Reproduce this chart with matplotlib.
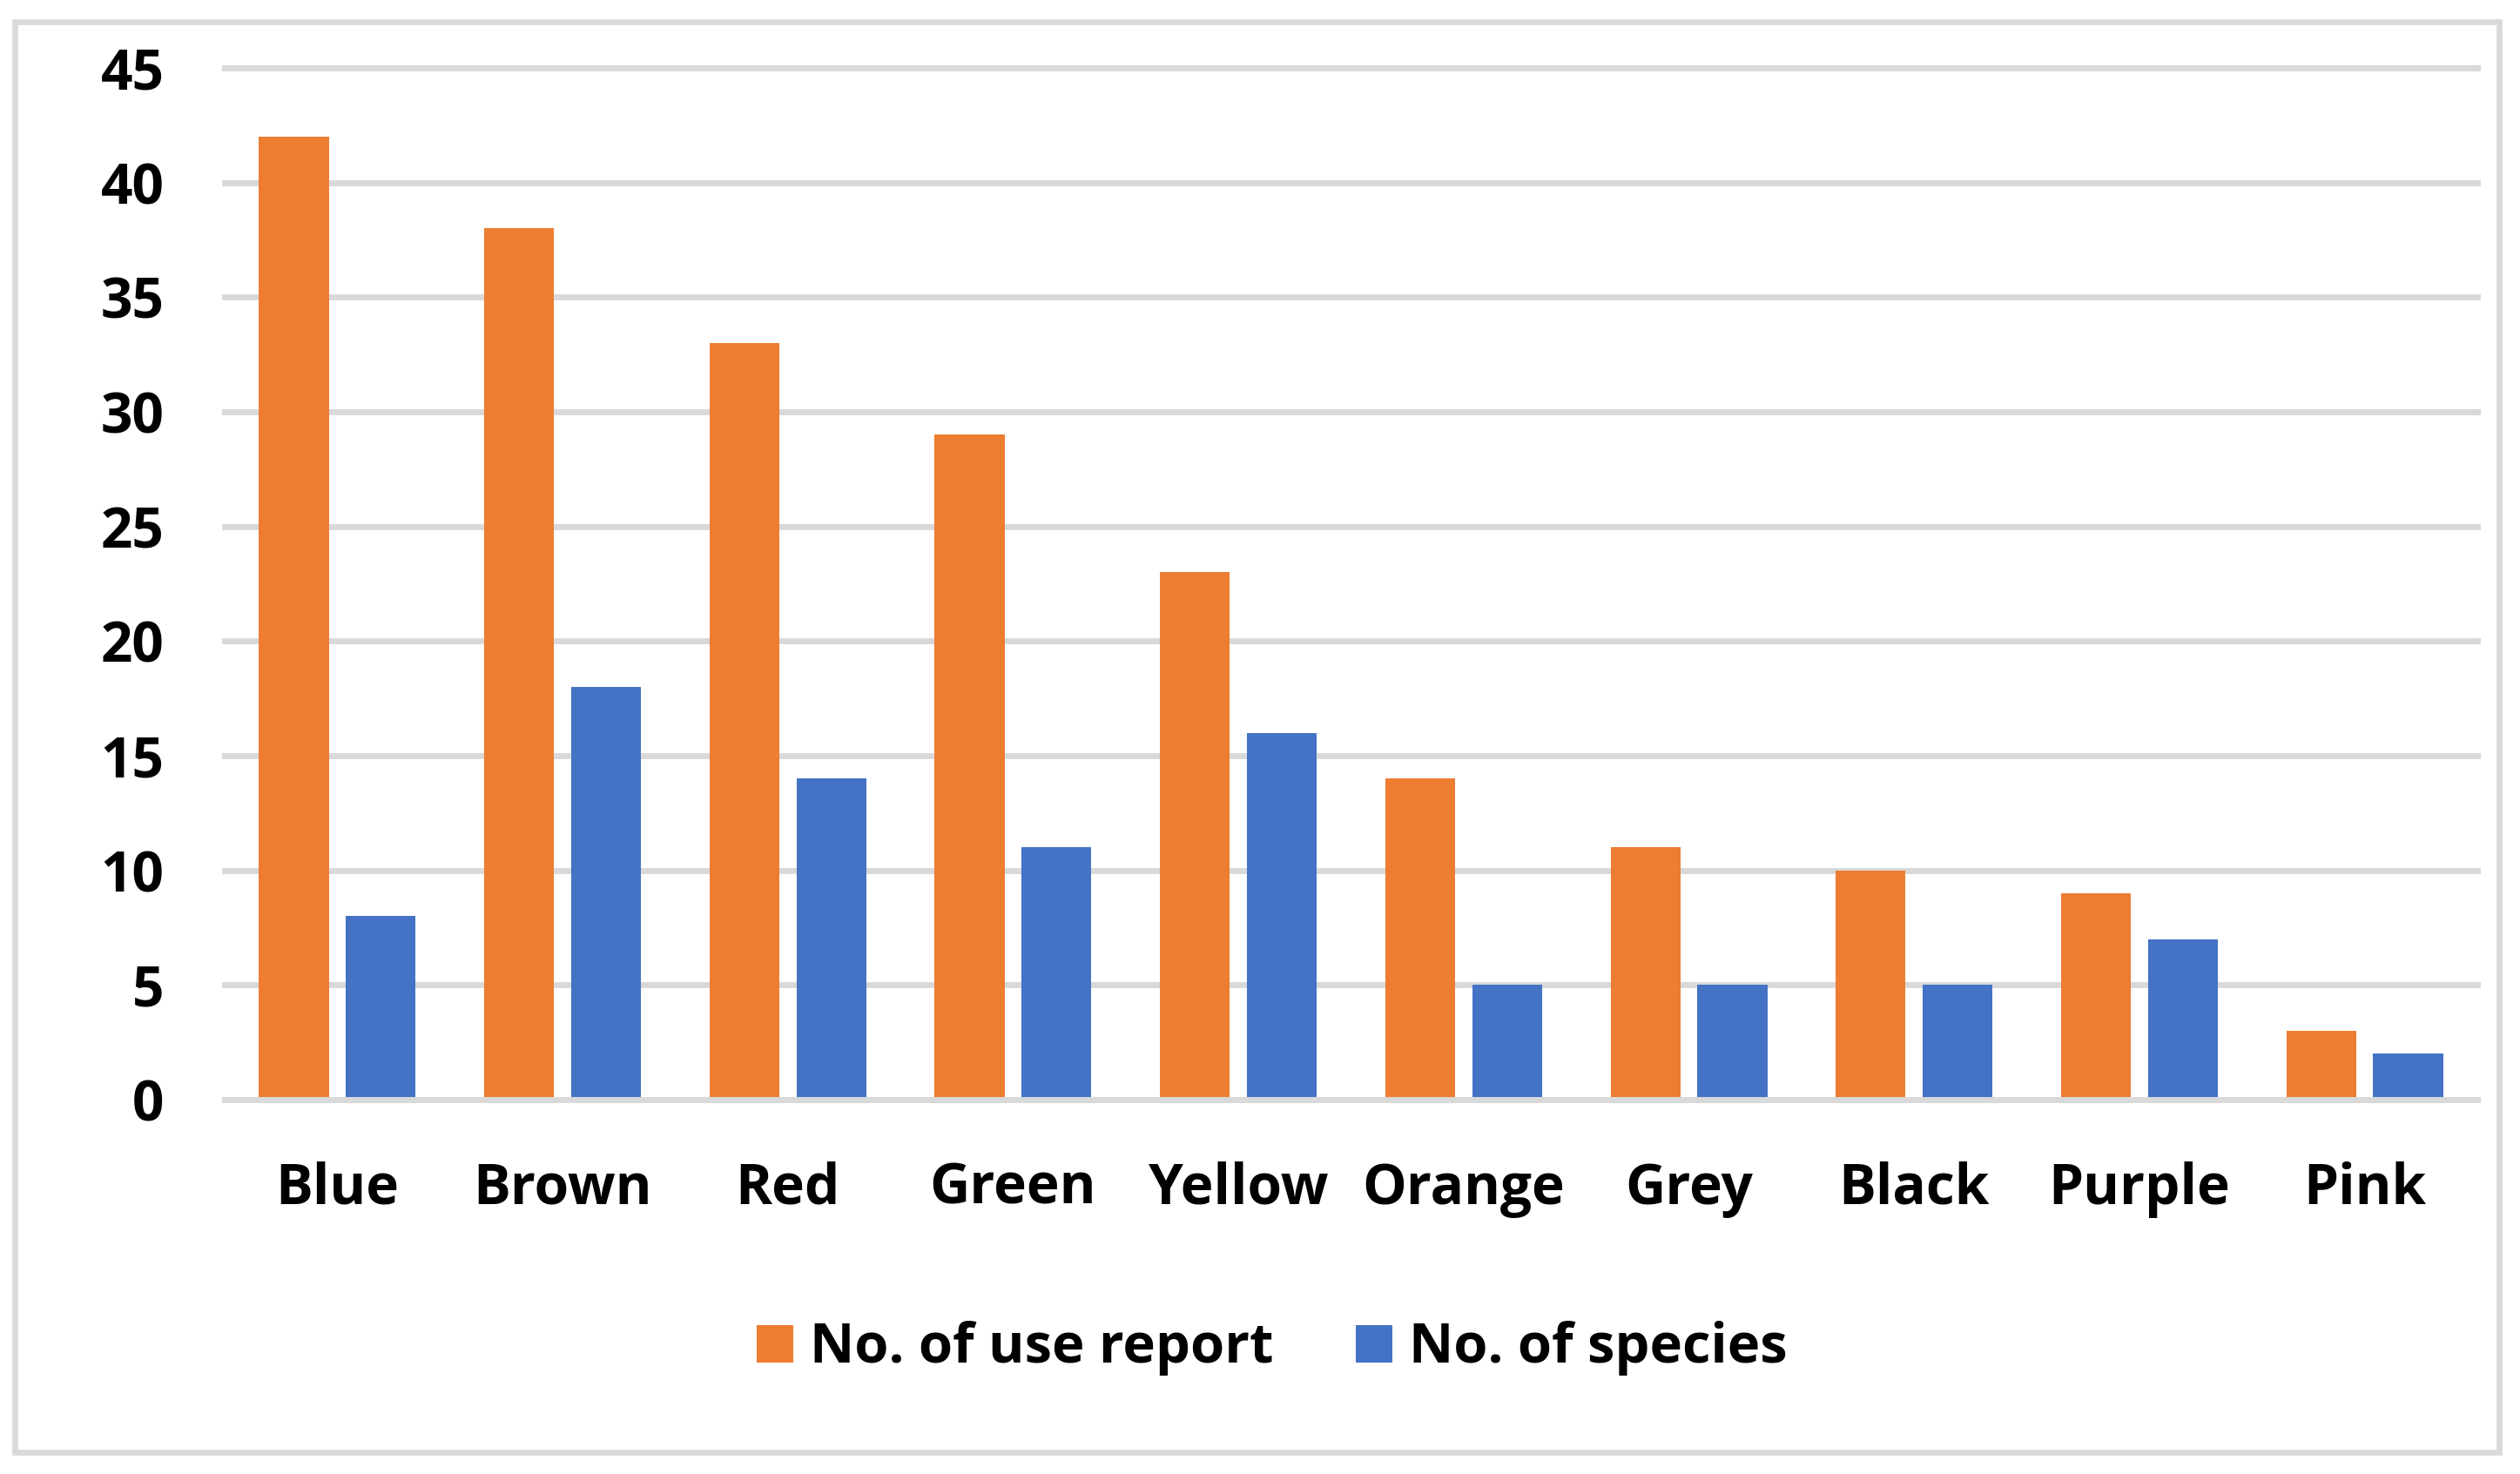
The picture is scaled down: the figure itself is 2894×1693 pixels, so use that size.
import matplotlib
matplotlib.use("Agg")
import matplotlib.pyplot as plt
from matplotlib.patches import Rectangle
import numpy as np

categories = ["Blue", "Brown", "Red", "Green", "Yellow", "Orange", "Grey", "Black", "Purple", "Pink"]
use_reports = [42, 38, 33, 29, 23, 14, 11, 10, 9, 3]
species = [8, 18, 14, 11, 16, 5, 5, 5, 7, 2]
series_labels = ["No. of use report", "No. of species"]
yticks = [0, 5, 10, 15, 20, 25, 30, 35, 40, 45]

ORANGE = "#ED7D31"
BLUE = "#4472C4"
GRID = "#D9D9D9"

plt.rcParams['font.family'] = ['Open Sans', 'DejaVu Sans']
plt.rcParams['font.weight'] = 'bold'

W, H = 2894, 1693
fig = plt.figure(figsize=(W / 100, H / 100), dpi=100)
fig.patch.set_facecolor("white")

ax = fig.add_axes([258 / W, 1 - 1263 / H, (2845 - 258) / W, (1263 - 78) / H])

x = np.arange(len(categories))
bw = 0.31
off = 0.193
b1 = ax.bar(x - off, use_reports, width=bw, color=ORANGE, zorder=2, label=series_labels[0])
b2 = ax.bar(x + off, species, width=bw, color=BLUE, zorder=2, label=series_labels[1])

ax.set_xlim(-0.5, len(categories) - 0.5)
ax.set_ylim(0, 45)
ax.set_yticks(yticks)
ax.set_xticks(x)
ax.set_xticklabels(categories)

for s in ["top", "right", "left"]:
    ax.spines[s].set_visible(False)
ax.spines["bottom"].set_color(GRID)
ax.spines["bottom"].set_linewidth(5)
ax.spines["bottom"].set_zorder(3)

ax.yaxis.grid(True, color=GRID, linewidth=5, zorder=0)
ax.set_axisbelow(True)
for gl in ax.get_ygridlines():
    gl.set_clip_on(False)

FS = 46
ax.tick_params(axis="y", length=0, pad=50, labelsize=FS)
ax.tick_params(axis="x", length=0, pad=51, labelsize=FS)
for lab in ax.get_xticklabels() + ax.get_yticklabels():
    lab.set_fontweight("bold")
    lab.set_color("black")

leg = fig.legend(handles=[b1, b2], labels=series_labels, loc="center",
                 bbox_to_anchor=(1461 / W, 1 - 1549 / H), ncol=2, frameon=False,
                 prop={"size": 45.5, "weight": "bold"},
                 handlelength=0.66, handleheight=0.66, handletextpad=0.3,
                 columnspacing=1.5)

border = Rectangle((17 / W, 1 - 1668 / H), (2870 - 17) / W, (1668 - 25) / H,
                   transform=fig.transFigure, fill=False, edgecolor=GRID,
                   linewidth=4.8, zorder=10)
fig.patches.append(border)

fig.savefig("out.png", dpi=100, facecolor="white")
